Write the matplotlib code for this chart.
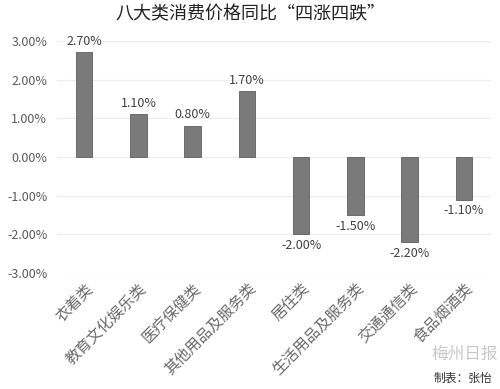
import numpy as np
import matplotlib.pyplot as plt

plt.rcParams['font.family'] = ['Noto Sans CJK SC', 'DejaVu Sans']

# data
categories = ["衣着类", "教育文化娱乐类", "医疗保健类", "其他用品及服务类",
              "居住类", "生活用品及服务类", "交通通信类", "食品烟酒类"]
values = [2.70, 1.10, 0.80, 1.70, -2.00, -1.50, -2.20, -1.10]
yticks = [-3, -2, -1, 0, 1, 2, 3]

fig = plt.figure(figsize=(5, 3.89), dpi=100)
ax = fig.add_axes([0.114, 0.298, 0.868, 0.597])

x = np.arange(len(categories))
ax.bar(x, values, width=0.3, color="#7a7a7a", edgecolor="#5e5e5e", linewidth=0.6, zorder=3)

for xi, v in zip(x, values):
    if v >= 0:
        ax.text(xi, v + 0.12, f"{v:.2f}%", ha="center", va="bottom", fontsize=9, color="#404040")
    else:
        ax.text(xi, v - 0.12, f"{v:.2f}%", ha="center", va="top", fontsize=9, color="#404040")

ax.set_xlim(-0.5, len(categories) - 0.5)
ax.set_ylim(-3, 3)
ax.set_yticks(yticks)
ax.set_yticklabels([f"{t:.2f}%" for t in yticks], fontsize=9, color="#595959")
ax.yaxis.grid(True, color="#ececec", linewidth=0.8, zorder=0)
ax.tick_params(axis="both", length=0)
ax.tick_params(axis="y", pad=7)
for s in ax.spines.values():
    s.set_visible(False)

ax.set_xticks(x)
ax.set_xticklabels(categories, rotation=45, ha="right", va="top",
                   rotation_mode="anchor", fontsize=11, color="#6a6a6a")
ax.tick_params(axis="x", pad=5)

fig.text(0.5, 0.962, "八大类消费价格同比“四涨四跌”", ha="center", va="center",
         fontsize=13, color="#222222")
fig.text(0.93, 0.09, "梅州日报", ha="center", va="center", fontsize=12, color="#c8c8c8")
fig.text(0.925, 0.028, "制表：张怡", ha="center", va="center", fontsize=8.5, color="#333333")

fig.savefig("out.png", dpi=100, facecolor="white")
